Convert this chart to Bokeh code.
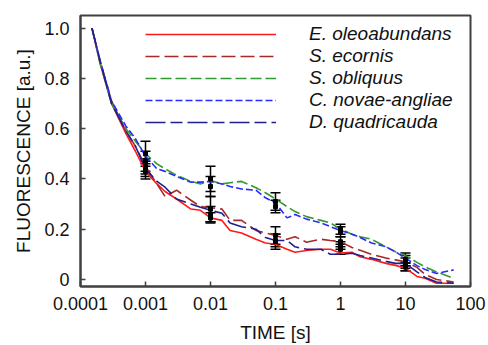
from bokeh.plotting import figure
from bokeh.models import (ColumnDataSource, Whisker, TeeHead, FixedTicker, Legend,
                          LegendItem, Range1d)
from bokeh.embed import file_html
from bokeh.resources import INLINE

# ---------------- data ----------------
time = [1.5e-4, 2e-4, 3e-4, 5e-4, 7e-4, 1e-3, 1.5e-3, 2e-3, 3e-3, 5e-3, 7e-3,
        0.01, 0.015, 0.02, 0.03, 0.05, 0.07, 0.1, 0.15, 0.2, 0.3, 0.5, 0.7,
        1, 1.5, 2, 3, 5, 7, 10, 15, 20, 30, 55]

e_oleoabundans = [1.0, 0.86, 0.70, 0.58, 0.51, 0.43, 0.38, 0.35, 0.32, 0.28, 0.275,
                  0.245, 0.235, 0.195, 0.185, 0.16, 0.145, 0.14, 0.12, 0.108, 0.115,
                  0.12, 0.12, 0.105, 0.108, 0.09, 0.08, 0.064, 0.056, 0.045, 0.012,
                  0.005, -0.015, -0.015]
s_ecornis = [1.0, 0.87, 0.71, 0.59, 0.53, 0.45, 0.38, 0.33, 0.355, 0.315, 0.29,
             0.285, 0.28, 0.235, 0.235, 0.195, 0.185, 0.175, 0.16, 0.17, 0.148,
             0.16, 0.155, 0.15, 0.127, 0.116, 0.1, 0.085, 0.078, 0.07, 0.048,
             0.02, 0.0, -0.01]
s_obliquus = [1.0, 0.86, 0.70, 0.60, 0.55, 0.50, 0.46, 0.44, 0.415, 0.39, 0.38,
              0.394, 0.38, 0.385, 0.39, 0.365, 0.345, 0.32, 0.29, 0.27, 0.25,
              0.235, 0.225, 0.2, 0.18, 0.17, 0.16, 0.13, 0.11, 0.095, 0.068,
              0.05, 0.03, 0.005]
c_novae_angliae = [1.0, 0.87, 0.71, 0.61, 0.56, 0.49, 0.44, 0.43, 0.41, 0.387, 0.387,
                   0.39, 0.38, 0.37, 0.36, 0.355, 0.325, 0.305, 0.245, 0.258, 0.24,
                   0.225, 0.21, 0.195, 0.18, 0.167, 0.145, 0.13, 0.11, 0.085, 0.055,
                   0.04, 0.024, 0.038]
d_quadricauda = [1.0, 0.87, 0.70, 0.59, 0.53, 0.44, 0.39, 0.367, 0.32, 0.30, 0.287,
                 0.275, 0.263, 0.225, 0.21, 0.2, 0.167, 0.155, 0.155, 0.13, 0.12,
                 0.12, 0.1, 0.1, 0.104, 0.095, 0.085, 0.072, 0.064, 0.064, 0.03,
                 0.008, -0.01, -0.015]

err_time = [0.001, 0.01, 0.1, 1, 10]
e_oleoabundans_mean = [0.43, 0.245, 0.15, 0.12, 0.05]
e_oleoabundans_sd = [0.03, 0.02, 0.03, 0.02, 0.015]
s_ecornis_mean = [0.45, 0.28, 0.175, 0.15, 0.065]
s_ecornis_sd = [0.03, 0.05, 0.035, 0.02, 0.02]
s_obliquus_mean = [0.50, 0.40, 0.31, 0.20, 0.08]
s_obliquus_sd = [0.05, 0.05, 0.035, 0.02, 0.025]
c_novae_angliae_mean = [0.47, 0.37, 0.29, 0.19, 0.075]
c_novae_angliae_sd = [0.04, 0.04, 0.025, 0.02, 0.02]
d_quadricauda_mean = [0.44, 0.26, 0.155, 0.135, 0.05]
d_quadricauda_sd = [0.03, 0.03, 0.025, 0.015, 0.015]

labels = ["E. oleoabundans", "S. ecornis", "S. obliquus", "C. novae-angliae", "D. quadricauda"]
x_ticks = [1e-4, 1e-3, 1e-2, 1e-1, 1, 10, 100]
x_tick_labels = ["0.0001", "0.001", "0.01", "0.1", "1", "10", "100"]
y_ticks = [0, 0.2, 0.4, 0.6, 0.8, 1.0]
y_tick_labels = ["0", "0.2", "0.4", "0.6", "0.8", "1.0"]

series = [e_oleoabundans, s_ecornis, s_obliquus, c_novae_angliae, d_quadricauda]
means = [e_oleoabundans_mean, s_ecornis_mean, s_obliquus_mean, c_novae_angliae_mean, d_quadricauda_mean]
sds = [e_oleoabundans_sd, s_ecornis_sd, s_obliquus_sd, c_novae_angliae_sd, d_quadricauda_sd]

# ---------------- styles ----------------
colors = ["#FF1A1A", "#A52A2A", "#339933", "#2A2AFF", "#1F1F8F"]
dashes = ["solid", "14 5", "11 4", "7 3", "20 5 12 5"]
FONT = "Liberation Sans"

p = figure(width=488, height=345, x_axis_type="log",
           x_range=Range1d(1e-4, 100), y_range=Range1d(-0.028, 1.05),
           output_backend="svg", toolbar_location=None,
           min_border_left=80, min_border_right=18, min_border_top=15, min_border_bottom=59)

p.xgrid.visible = False
p.ygrid.visible = False
p.outline_line_color = "#404040"
p.outline_line_width = 2
p.background_fill_color = "white"
p.border_fill_color = "white"

renderers = []
for ys, c, d in zip(series, colors, dashes):
    r = p.line(time, ys, line_color=c, line_width=1.6, line_dash=d)
    renderers.append(r)

for m, s in zip(means, sds):
    src = ColumnDataSource(dict(x=err_time, lo=[a - b for a, b in zip(m, s)],
                                hi=[a + b for a, b in zip(m, s)], y=m))
    w = Whisker(base="x", lower="lo", upper="hi", source=src,
                line_color="black", line_width=1.5,
                upper_head=TeeHead(size=10, line_color="black", line_width=1.5),
                lower_head=TeeHead(size=10, line_color="black", line_width=1.5))
    p.add_layout(w)
    p.scatter("x", "y", source=src, marker="square", size=4, color="black")

# axes
for ax in (p.xaxis[0], p.yaxis[0]):
    ax.axis_line_color = "#404040"
    ax.axis_line_width = 2
    ax.major_tick_in = 5
    ax.major_tick_out = 0
    ax.major_tick_line_color = "#404040"
    ax.major_tick_line_width = 1.5
    ax.minor_tick_line_color = None
    ax.major_label_text_font = FONT
    ax.major_label_text_font_size = "18px"
    ax.major_label_text_color = "#111111"
    ax.axis_label_text_font = FONT
    ax.axis_label_text_font_size = "19px"
    ax.axis_label_text_font_style = "normal"
    ax.axis_label_text_color = "#111111"

p.xaxis.ticker = FixedTicker(ticks=x_ticks)
p.xaxis.major_label_overrides = {t: l for t, l in zip(x_ticks, x_tick_labels)}
p.xaxis.axis_label = "TIME [s]"
p.xaxis.major_label_standoff = 10
p.xaxis.axis_label_standoff = 9

p.yaxis.ticker = FixedTicker(ticks=y_ticks)
p.yaxis.major_label_overrides = {t: l for t, l in zip(y_ticks, y_tick_labels)}
p.yaxis.axis_label = "FLUORESCENCE [a.u.]"
p.yaxis.major_label_standoff = 11
p.yaxis.axis_label_standoff = 7

legend = Legend(items=[LegendItem(label=l, renderers=[r]) for l, r in zip(labels, renderers)],
                location=(65, 153), padding=0, margin=0, spacing=0,
                border_line_color=None, background_fill_alpha=0,
                glyph_width=131, glyph_height=22, label_height=22,
                label_standoff=33, label_text_font=FONT, label_text_font_size="19px",
                label_text_font_style="italic", label_text_color="#111111")
p.add_layout(legend)

open("out.html", "w").write(file_html(p, INLINE))
